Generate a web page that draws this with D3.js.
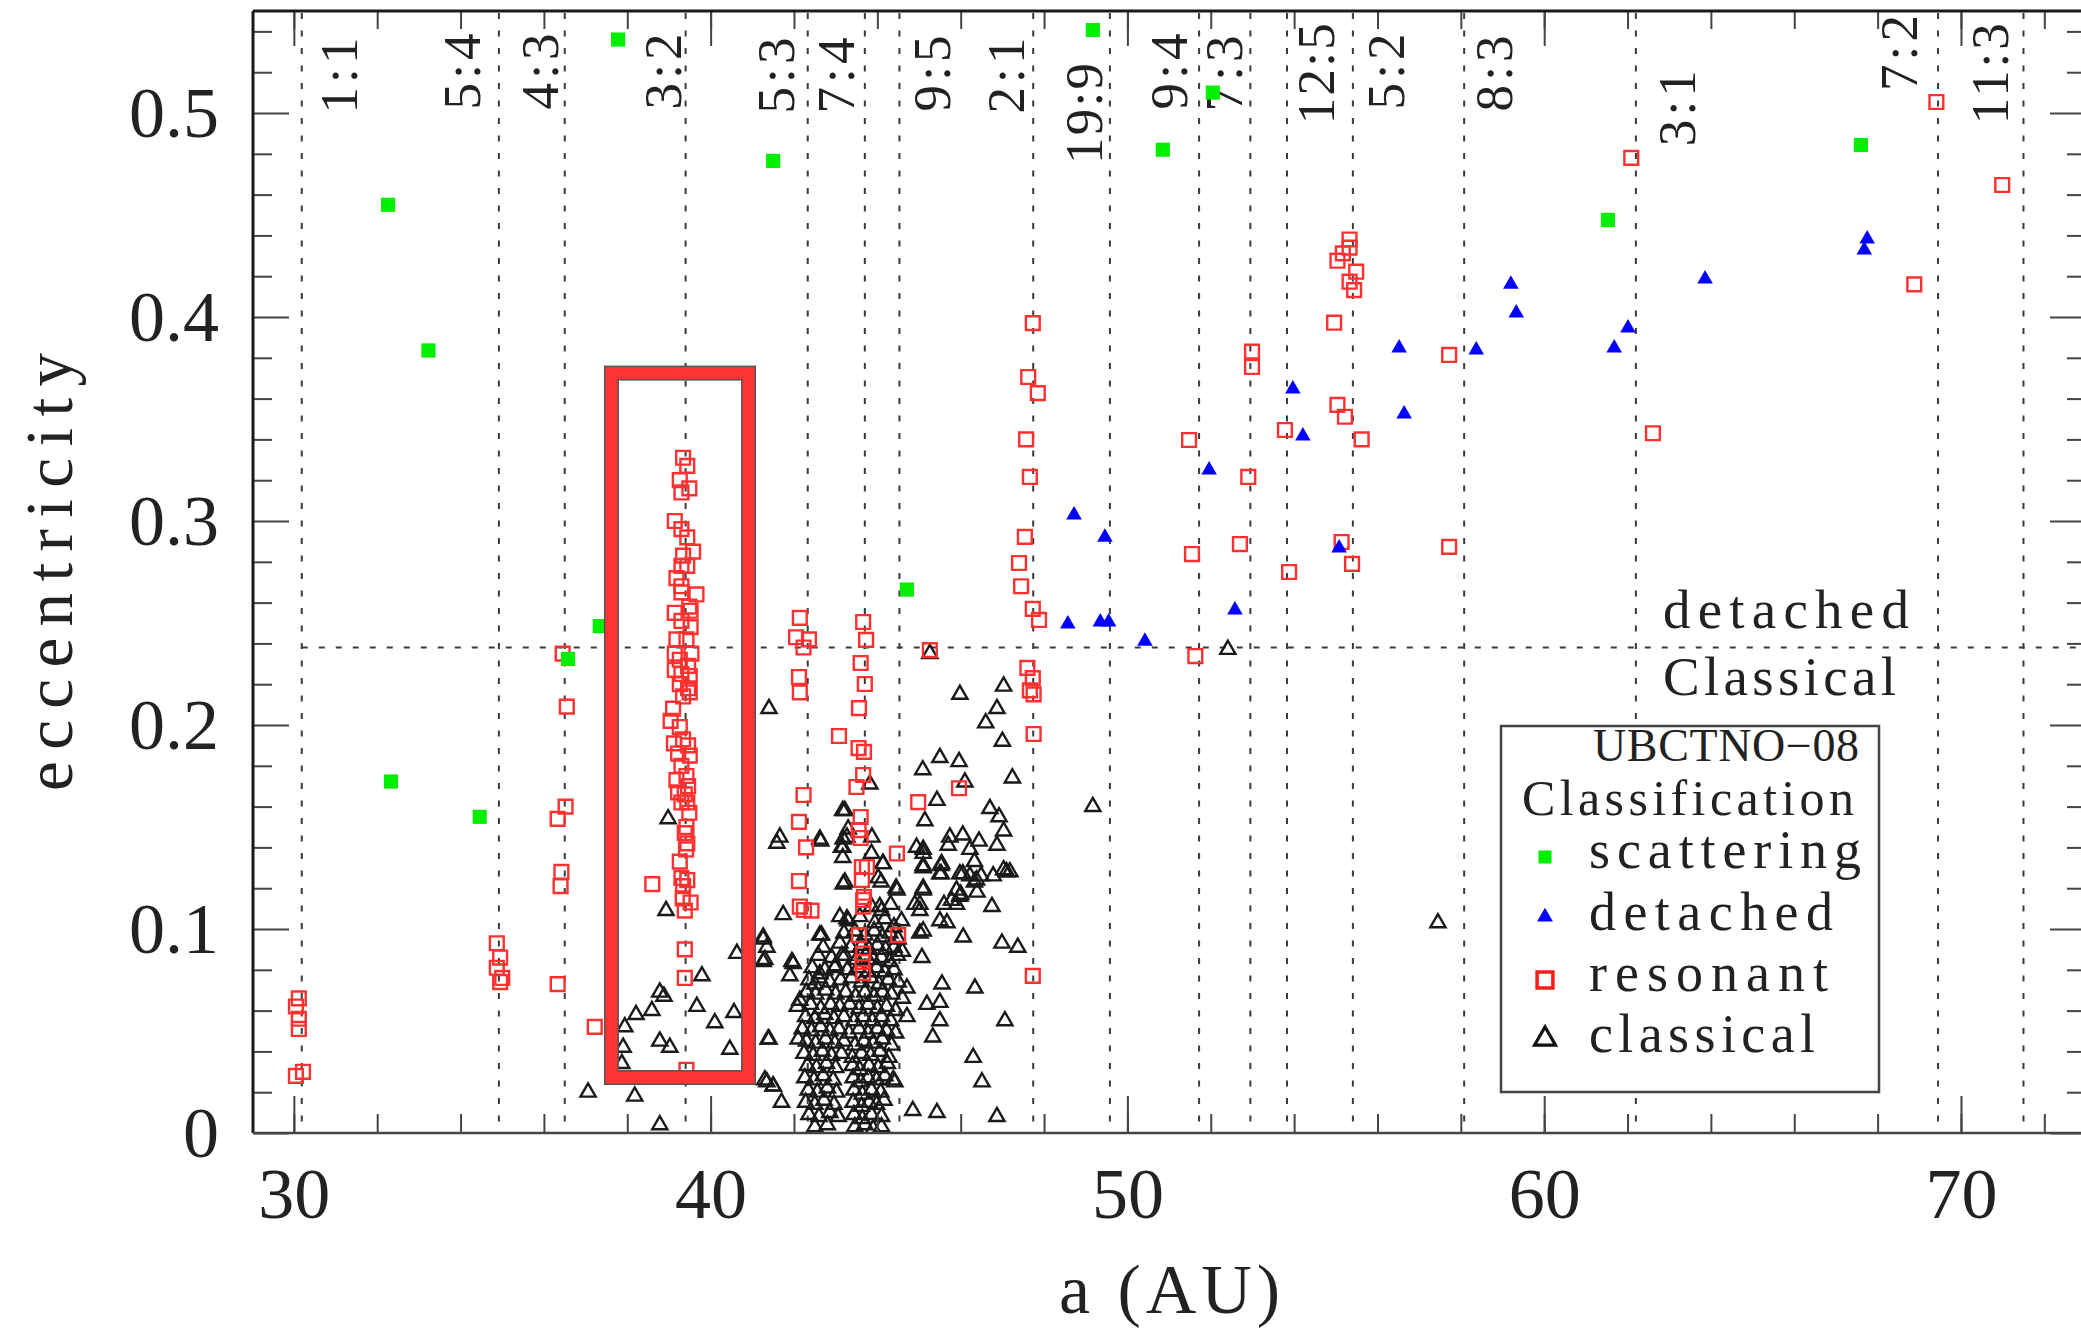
<!DOCTYPE html>
<html><head><meta charset="utf-8">
<script src="https://cdn.jsdelivr.net/npm/d3@7"></script>
<style>body{margin:0;background:#fff;} svg{display:block;}</style>
</head><body>
<svg id="chart" width="2081" height="1329"></svg>
<script>
// ---------------- DATA ----------------
const xTickLabels = [30, 40, 50, 60, 70];
const xMinorTicks = [30,32,34,36,38,40,42,44,46,48,50,52,54,56,58,60,62,64,66,68,70,72];
const yTickLabels = [0, 0.1, 0.2, 0.3, 0.4, 0.5];
const yMinorTicks = [0.02,0.04,0.06,0.08,0.12,0.14,0.16,0.18,0.22,0.24,0.26,0.28,0.32,0.34,0.36,0.38,0.42,0.44,0.46,0.48,0.52,0.54];

const resNames  = ["1:1","5:4","4:3","3:2","5:3","7:4","9:5","2:1","19:9","9:4","7:3","12:5","5:2","8:3","3:1","7:2","11:3"];
const resA      = [30.19,34.92,36.50,39.40,42.33,43.70,44.53,47.74,49.58,51.72,52.95,53.83,55.41,58.08,62.20,69.45,71.50];
const resLabelA = [31.52,34.47,36.34,39.29,42.00,43.44,45.74,47.52,49.39,51.43,52.75,54.96,56.64,59.23,63.62,68.94,71.13];
const resLabelE = [0.537,0.539,0.539,0.539,0.537,0.537,0.538,0.537,0.5245,0.539,0.538,0.544,0.539,0.538,0.521,0.548,0.544];

const divideE = 0.238;               // detached / Classical boundary
const boxA = [37.62, 40.91];          // highlighted 3:2 box
const boxE = [0.0272, 0.3725];
const regionLabels = ["detached", "Classical"];
const regionLabelA = [62.85, 62.85];
const regionLabelE = [0.2475, 0.2147];

const legendTitle = ["UBCTNO\u221208", "Classification"];
const legendNames = ["scattering", "detached", "resonant", "classical"];

const scattering = [[32.26,0.455],[33.23,0.3836],[37.78,0.536],[32.33,0.1723],[34.46,0.155],[36.58,0.2324],[37.34,0.2485],[41.50,0.4765],[49.17,0.5407],[50.85,0.482],[52.05,0.510],[44.71,0.2664],[61.53,0.4476],[67.60,0.4843]];

const detached = [[48.72,0.303],[49.46,0.292],[51.96,0.325],[48.57,0.2495],[49.35,0.2505],[49.55,0.2505],[50.42,0.241],[52.58,0.2564],[55.08,0.2868],[53.97,0.3647],[54.21,0.3417],[56.52,0.3848],[56.64,0.3525],[59.20,0.416],[59.33,0.402],[58.37,0.3838],[61.68,0.3848],[62.01,0.3946],[63.86,0.4186],[67.75,0.4382],[67.68,0.4328]];

const resonant = [
 [30.12,0.066],[30.05,0.062],[30.12,0.056],[30.12,0.051],[30.05,0.028],[30.22,0.030],
 [34.87,0.093],[34.95,0.086],[34.87,0.081],[35.00,0.076],[34.95,0.074],
 [36.45,0.235],[36.55,0.209],[36.52,0.160],[36.33,0.154],[36.42,0.128],[36.40,0.121],[36.33,0.073],[37.22,0.052],
 [39.34,0.331],[39.44,0.327],[39.26,0.320],[39.49,0.316],[39.30,0.314],[39.14,0.300],[39.30,0.296],[39.44,0.292],[39.58,0.285],[39.34,0.283],[39.30,0.278],[39.44,0.278],[39.18,0.272],[39.30,0.268],[39.66,0.264],[39.30,0.265],[39.49,0.258],[39.14,0.255],[39.52,0.256],[39.30,0.251],[39.52,0.248],[39.18,0.242],[39.42,0.242],[39.14,0.235],[39.54,0.235],[39.26,0.232],[39.46,0.229],[39.14,0.227],[39.30,0.225],[39.50,0.224],[39.26,0.220],[39.46,0.218],[39.34,0.214],[39.50,0.216],[39.10,0.208],[39.04,0.202],[39.26,0.199],[39.34,0.193],[39.12,0.191],[39.46,0.190],[39.22,0.186],[39.50,0.185],[39.30,0.180],[39.42,0.175],[39.18,0.173],[39.46,0.170],[39.22,0.167],[39.38,0.166],
 [39.44,0.162],[39.30,0.162],[39.49,0.157],[39.42,0.150],[39.38,0.147],[39.44,0.142],[39.41,0.139],[39.26,0.133],[39.30,0.125],[39.44,0.124],[39.34,0.121],[39.52,0.113],[39.33,0.115],[39.38,0.109],[38.60,0.122],[39.38,0.090],[39.38,0.076],[39.42,0.031],
 [42.14,0.2525],[42.05,0.243],[42.36,0.242],[42.23,0.238],[42.12,0.2235],[42.14,0.216],[43.08,0.1946],[42.23,0.1657],[42.12,0.1525],[42.29,0.140],[42.12,0.1235],[42.24,0.1093],[42.14,0.111],[42.42,0.109],
 [43.66,0.2505],[43.73,0.2417],[43.60,0.2304],[43.70,0.2201],[43.56,0.2083],[43.55,0.1887],[43.68,0.1868],[43.66,0.1755],[43.50,0.1696],[43.60,0.1549],[43.55,0.1485],[43.60,0.1446],[43.63,0.1304],[43.75,0.1304],[43.63,0.1240],[43.68,0.1157],[43.66,0.1142],[43.66,0.111],[43.56,0.097],[43.66,0.088],[43.64,0.0838],[43.66,0.0784],
 [44.47,0.137],[44.50,0.097],[44.98,0.1622],[45.96,0.169],[45.26,0.2367],
 [47.73,0.397],[47.62,0.3706],[47.85,0.3627],[47.57,0.340],[47.66,0.3216],[47.54,0.2922],[47.40,0.2794],[47.45,0.268],[47.73,0.2569],[47.88,0.2515],[47.60,0.228],[47.73,0.223],[47.66,0.217],[47.75,0.215],[47.75,0.1956],[47.73,0.077],
 [51.48,0.3397],[51.55,0.2838],[51.63,0.2338],
 [52.99,0.383],[52.99,0.3755],[52.90,0.3216],[52.70,0.2887],
 [53.78,0.3446],[53.88,0.275],
 [55.33,0.438],[55.33,0.434],[55.17,0.4312],[55.04,0.4276],[55.49,0.4222],[55.33,0.4173],[55.44,0.4132],[54.96,0.3972],[55.04,0.3569],[55.22,0.3511],[55.62,0.340],[55.14,0.2897],[55.39,0.279],
 [69.41,0.5054],[62.09,0.478],[70.99,0.4647],[68.88,0.416],[57.72,0.3814],[62.61,0.343],[57.72,0.2873]
];

const classical = [
 [49.17,0.160],[52.41,0.237],[57.45,0.103],[45.26,0.235],
 [38.98,0.154],[38.93,0.109],[38.78,0.069],[38.88,0.067],[38.59,0.060],[38.21,0.058],[37.94,0.052],[37.90,0.042],[37.87,0.034],[38.78,0.045],[39.02,0.042],[39.67,0.062],[39.79,0.077],[40.10,0.054],[40.56,0.059],[40.46,0.041],[40.63,0.088],[41.26,0.095],[41.35,0.091],[41.26,0.084],[41.40,0.046],[41.35,0.025],[41.50,0.023],[41.59,0.142],[38.18,0.018],[38.78,0.004],[37.06,0.020],
 [41.40,0.208],[45.98,0.215],[47.03,0.219],[46.87,0.208],[46.60,0.201],[47.00,0.192],[45.50,0.184],[45.96,0.182],[45.09,0.178],[47.24,0.174],[43.82,0.171],[46.10,0.172],[45.43,0.163],[43.17,0.158],[46.70,0.159],[46.92,0.155],[45.14,0.153],[47.03,0.148],[41.66,0.145],[42.64,0.143],[43.27,0.145],[43.87,0.145],[45.74,0.145],[46.05,0.146],[46.44,0.143],[43.17,0.140],[45.70,0.141],[46.22,0.139],[46.87,0.141],[45.10,0.139],[44.13,0.132],[45.10,0.131],[45.53,0.131],[46.33,0.133],[43.17,0.135],[47.03,0.129],[46.05,0.127],[46.49,0.126],[47.18,0.128],[45.53,0.127],[44.09,0.123],[43.22,0.123],[45.10,0.120],[45.90,0.119],[46.33,0.123],[44.45,0.120],[46.00,0.117],[46.39,0.118],
 [41.74,0.107],[41.26,0.096],[41.30,0.085],[41.95,0.084],[41.90,0.077],[42.62,0.097],[43.27,0.105],[43.15,0.087],[42.98,0.081],[42.62,0.078],[42.50,0.073],[42.14,0.065],[41.38,0.046],[42.10,0.046],[41.30,0.026],[41.50,0.023],[41.70,0.015],[44.06,0.111],[45.02,0.109],[44.47,0.119],[45.67,0.103],[46.06,0.096],[45.10,0.099],[46.99,0.093],[47.37,0.091],[45.07,0.086],[45.55,0.073],[46.34,0.071],[44.71,0.071],[45.50,0.064],[45.19,0.063],[44.71,0.057],[45.50,0.055],[47.06,0.055],[45.33,0.047],[44.38,0.026],[46.30,0.037],[46.51,0.025],[44.85,0.011],[45.43,0.010],[46.87,0.008],[46.75,0.111],[45.60,0.112],[45.90,0.112],[44.90,0.112],
 [44.94,0.140],[45.10,0.137],[45.10,0.130],[45.54,0.132],[45.50,0.127],[45.98,0.127],[46.22,0.126],[46.38,0.124],[46.78,0.126],[47.10,0.128],[45.10,0.119],[45.02,0.112],[45.78,0.114],[45.98,0.116],[45.50,0.104],[45.02,0.098],[44.14,0.132],[44.02,0.125],[43.18,0.122],[43.14,0.140],[43.18,0.144],[43.30,0.149],[43.22,0.158],[42.62,0.144],[43.86,0.137],[43.10,0.106],[42.66,0.097],[41.98,0.083],
 [43.86,0.111],[44.10,0.109],[44.32,0.112],
 [43.30,0.104],[43.58,0.106],[43.94,0.103],[44.18,0.105],[44.40,0.101],[44.58,0.104],
 [43.20,0.098],[43.46,0.099],[43.70,0.097],[43.92,0.099],[44.12,0.096],[44.30,0.098],[44.50,0.095],
 [42.70,0.091],[43.10,0.093],[43.36,0.091],[43.62,0.092],[43.80,0.090],[44.00,0.092],[44.20,0.090],[44.40,0.091],[44.60,0.089],
 [42.58,0.087],[42.90,0.086],[43.22,0.087],[43.50,0.085],[43.72,0.087],[43.90,0.085],[44.10,0.086],[44.30,0.084],[44.48,0.087],
 [42.44,0.081],[42.74,0.080],[43.00,0.082],[43.28,0.080],[43.54,0.081],[43.78,0.079],[43.98,0.081],[44.18,0.079],[44.40,0.080],
 [42.36,0.075],[42.60,0.076],[42.86,0.074],[43.12,0.075],[43.38,0.076],[43.62,0.074],[43.84,0.076],[44.04,0.073],[44.26,0.075],[44.50,0.074],
 [42.30,0.069],[42.52,0.068],[42.76,0.070],[43.00,0.068],[43.24,0.069],[43.48,0.067],[43.70,0.069],[43.92,0.067],[44.12,0.069],[44.34,0.068],[44.60,0.066],
 [42.08,0.062],[42.40,0.063],[42.64,0.061],[42.88,0.063],[43.10,0.062],[43.34,0.063],[43.56,0.061],[43.78,0.063],[44.00,0.061],[44.22,0.062],[44.44,0.060],
 [42.28,0.057],[42.50,0.056],[42.74,0.058],[42.96,0.056],[43.20,0.057],[43.44,0.055],[43.66,0.057],[43.88,0.055],[44.10,0.057],[44.32,0.055],
 [42.20,0.051],[42.42,0.050],[42.64,0.052],[42.86,0.050],[43.08,0.051],[43.32,0.049],[43.56,0.051],[43.78,0.049],[44.00,0.051],[44.22,0.050],[44.44,0.049],
 [42.30,0.045],[42.52,0.044],[42.76,0.046],[42.98,0.044],[43.20,0.045],[43.46,0.043],[43.68,0.045],[43.90,0.044],[44.12,0.046],[44.34,0.043],
 [42.24,0.039],[42.46,0.038],[42.68,0.040],[42.90,0.038],[43.14,0.039],[43.40,0.037],[43.62,0.039],[43.84,0.038],[44.06,0.040],[44.28,0.037],
 [42.32,0.033],[42.54,0.032],[42.78,0.034],[43.00,0.032],[43.40,0.033],[43.58,0.031],[43.80,0.033],[44.02,0.032],[44.24,0.034],
 [42.26,0.027],[42.48,0.026],[42.70,0.028],[42.94,0.026],[43.42,0.027],[43.60,0.025],[43.78,0.027],[43.98,0.026],[44.18,0.028],[44.42,0.025],
 [42.34,0.021],[42.56,0.020],[42.80,0.022],[43.02,0.020],[43.44,0.021],[43.64,0.019],[43.86,0.021],[44.08,0.020],
 [42.28,0.015],[42.50,0.014],[42.72,0.016],[42.96,0.014],[43.42,0.015],[43.62,0.013],[43.80,0.015],[43.98,0.014],[44.16,0.016],
 [42.36,0.009],[42.60,0.008],[42.86,0.010],[43.06,0.008],[43.44,0.009],[43.64,0.007],[43.86,0.009],[44.10,0.008],
 [42.50,0.003],[42.80,0.004],[43.46,0.003],[43.70,0.004],[43.90,0.002],[44.10,0.003]
];

// ---------------- CHART ----------------
const plot = {left: 253, right: 2086, top: 11, bottom: 1133};
const x = d3.scaleLinear().domain([29.02, 73]).range([plot.left, plot.right]);
const y = d3.scaleLinear().domain([0, 0.55]).range([plot.bottom, plot.top]);
const FONT = '"Liberation Serif","Times New Roman",serif';
const INK = '#222';

const svg = d3.select('#chart');
svg.append('rect').attr('width', 2081).attr('height', 1329).attr('fill', '#fff');
svg.append('defs').append('clipPath').attr('id', 'clip')
  .append('rect').attr('x', plot.left).attr('y', plot.top)
  .attr('width', plot.right - plot.left).attr('height', plot.bottom - plot.top);

const gGuide = svg.append('g').attr('clip-path', 'url(#clip)');
gGuide.selectAll('line.res').data(resA).join('line').attr('class', 'res')
  .attr('x1', d => x(d)).attr('x2', d => x(d))
  .attr('y1', plot.top + 2).attr('y2', plot.bottom)
  .attr('stroke', '#3a3a3a').attr('stroke-width', 2).attr('stroke-dasharray', '6 11.5');
gGuide.append('line')
  .attr('x1', x(resA[0])).attr('x2', plot.right)
  .attr('y1', y(divideE)).attr('y2', y(divideE))
  .attr('stroke', '#3a3a3a').attr('stroke-width', 2).attr('stroke-dasharray', '6 11');

// resonance labels
svg.append('g').selectAll('text').data(resNames).join('text')
  .attr('transform', (d, i) => `translate(${x(resLabelA[i])},${y(resLabelE[i])}) rotate(-90)`)
  .attr('text-anchor', 'end')
  .attr('font-family', FONT).attr('font-size', 53).attr('fill', INK)
  .attr('textLength', d => d.length > 3 ? 101 : 76).attr('lengthAdjust', 'spacing')
  .text(d => d);

// region labels
svg.append('g').selectAll('text').data(regionLabels).join('text')
  .attr('x', (d, i) => x(regionLabelA[i])).attr('y', (d, i) => y(regionLabelE[i]))
  .attr('font-family', FONT).attr('font-size', 55).attr('fill', INK)
  .attr('textLength', (d, i) => i === 0 ? 246 : 233).attr('lengthAdjust', 'spacing')
  .text(d => d);

// points
const gPts = svg.append('g').attr('clip-path', 'url(#clip)');
const tr = d => `translate(${x(d[0])},${y(d[1])})`;
gPts.append('g').selectAll('path').data(classical).join('path')
  .attr('transform', tr).attr('d', d3.symbol().type(d3.symbolTriangle).size(100))
  .attr('fill', 'none').attr('stroke', '#1a1a1a').attr('stroke-width', 2.4);
gPts.append('g').selectAll('path').data(resonant).join('path')
  .attr('transform', tr).attr('d', d3.symbol().type(d3.symbolSquare).size(190))
  .attr('fill', 'none').attr('stroke', '#ff3030').attr('stroke-width', 2.4);
gPts.append('g').selectAll('path').data(detached).join('path')
  .attr('transform', tr).attr('d', d3.symbol().type(d3.symbolTriangle).size(105))
  .attr('fill', '#0000ff');
gPts.append('g').selectAll('path').data(scattering).join('path')
  .attr('transform', tr).attr('d', d3.symbol().type(d3.symbolSquare).size(200))
  .attr('fill', '#00ee00');

// highlight box
const bx = x(boxA[0]), bw = x(boxA[1]) - x(boxA[0]);
const by = y(boxE[1]), bh = y(boxE[0]) - y(boxE[1]);
svg.append('rect').attr('x', bx).attr('y', by).attr('width', bw).attr('height', bh)
  .attr('fill', 'none').attr('stroke', '#555').attr('stroke-width', 15);
svg.append('rect').attr('x', bx).attr('y', by).attr('width', bw).attr('height', bh)
  .attr('fill', 'none').attr('stroke', '#ff3333').attr('stroke-width', 12);

// axes (ticks inward)
function styleAxis(g) {
  g.select('.domain').remove();
  g.selectAll('line').attr('stroke', '#444').attr('stroke-width', 2);
  g.selectAll('text').attr('font-family', FONT).attr('font-size', 72).attr('fill', INK);
}
svg.append('g').attr('transform', `translate(0,${plot.bottom})`)
  .call(d3.axisBottom(x).tickValues(xMinorTicks).tickSize(-19).tickFormat('')).call(styleAxis);
svg.append('g').attr('transform', `translate(0,${plot.bottom})`)
  .call(d3.axisBottom(x).tickValues(xTickLabels).tickSize(-37).tickPadding(34).tickFormat(d3.format('d'))).call(styleAxis);
svg.append('g').attr('transform', `translate(0,${plot.top})`)
  .call(d3.axisTop(x).tickValues(xMinorTicks).tickSize(-18).tickFormat('')).call(styleAxis);
svg.append('g').attr('transform', `translate(0,${plot.top})`)
  .call(d3.axisTop(x).tickValues(xTickLabels).tickSize(-35).tickFormat('')).call(styleAxis);
svg.append('g').attr('transform', `translate(${plot.left},0)`)
  .call(d3.axisLeft(y).tickValues(yMinorTicks).tickSize(-19).tickFormat('')).call(styleAxis);
svg.append('g').attr('transform', `translate(${plot.left},0)`)
  .call(d3.axisLeft(y).tickValues(yTickLabels).tickSize(-36).tickPadding(34)
    .tickFormat(d => d === 0 ? '0' : d3.format('.1f')(d))).call(styleAxis);
svg.append('g').attr('transform', `translate(${plot.right},0)`)
  .call(d3.axisRight(y).tickValues(yMinorTicks).tickSize(-19).tickFormat('')).call(styleAxis);
svg.append('g').attr('transform', `translate(${plot.right},0)`)
  .call(d3.axisRight(y).tickValues(yTickLabels).tickSize(-36).tickFormat('')).call(styleAxis);

// frame
const frame = svg.append('g');
frame.append('line').attr('x1', plot.left).attr('x2', plot.right).attr('y1', plot.top).attr('y2', plot.top).attr('stroke', '#1a1a1a').attr('stroke-width', 3);
frame.append('line').attr('x1', plot.left).attr('x2', plot.left).attr('y1', plot.top).attr('y2', plot.bottom).attr('stroke', '#1a1a1a').attr('stroke-width', 3);
frame.append('line').attr('x1', plot.left).attr('x2', plot.right).attr('y1', plot.bottom).attr('y2', plot.bottom).attr('stroke', '#444').attr('stroke-width', 2.5);
frame.append('line').attr('x1', plot.right).attr('x2', plot.right).attr('y1', plot.top).attr('y2', plot.bottom).attr('stroke', '#444').attr('stroke-width', 2.5);

// axis titles
svg.append('text').attr('x', (plot.left + plot.right) / 2).attr('y', 1313)
  .attr('text-anchor', 'middle').attr('font-family', FONT).attr('font-size', 70).attr('fill', INK)
  .attr('textLength', 221).attr('lengthAdjust', 'spacing').text('a (AU)');
svg.append('text').attr('transform', `translate(72,${(plot.top + plot.bottom) / 2}) rotate(-90)`)
  .attr('text-anchor', 'middle').attr('font-family', FONT).attr('font-size', 67).attr('fill', INK)
  .attr('textLength', 438).attr('lengthAdjust', 'spacing').text('eccentricity');

// legend
const lg = svg.append('g');
lg.append('rect').attr('x', 1501).attr('y', 726).attr('width', 378).attr('height', 366)
  .attr('fill', '#fff').attr('stroke', '#444').attr('stroke-width', 2.5);
lg.append('text').attr('x', 1859).attr('y', 761).attr('text-anchor', 'end')
  .attr('font-family', FONT).attr('font-size', 46).attr('fill', INK)
  .attr('textLength', 266).attr('lengthAdjust', 'spacing').text(legendTitle[0]);
lg.append('text').attr('x', 1854).attr('y', 815).attr('text-anchor', 'end')
  .attr('font-family', FONT).attr('font-size', 50).attr('fill', INK)
  .attr('textLength', 332).attr('lengthAdjust', 'spacing').text(legendTitle[1]);
const lgBase = [868, 930, 991, 1052];
const lgLen = [272, 244, 239, 226];
const lgMarkY = [857, 917, 980, 1039];
lg.selectAll('text.item').data(legendNames).join('text').attr('class', 'item')
  .attr('x', 1589).attr('y', (d, i) => lgBase[i])
  .attr('font-family', FONT).attr('font-size', 54).attr('fill', INK)
  .attr('textLength', (d, i) => lgLen[i]).attr('lengthAdjust', 'spacing').text(d => d);
lg.append('path').attr('transform', `translate(1545,${lgMarkY[0]})`)
  .attr('d', d3.symbol().type(d3.symbolSquare).size(170)).attr('fill', '#00ee00');
lg.append('path').attr('transform', `translate(1545,${lgMarkY[1]})`)
  .attr('d', d3.symbol().type(d3.symbolTriangle).size(110)).attr('fill', '#0000ff');
lg.append('path').attr('transform', `translate(1545,${lgMarkY[2]})`)
  .attr('d', d3.symbol().type(d3.symbolSquare).size(250)).attr('fill', 'none').attr('stroke', '#ff1a1a').attr('stroke-width', 3.5);
lg.append('path').attr('transform', `translate(1545,${lgMarkY[3]})`)
  .attr('d', d3.symbol().type(d3.symbolTriangle).size(190)).attr('fill', 'none').attr('stroke', '#111').attr('stroke-width', 3.2);
</script>
</body></html>
